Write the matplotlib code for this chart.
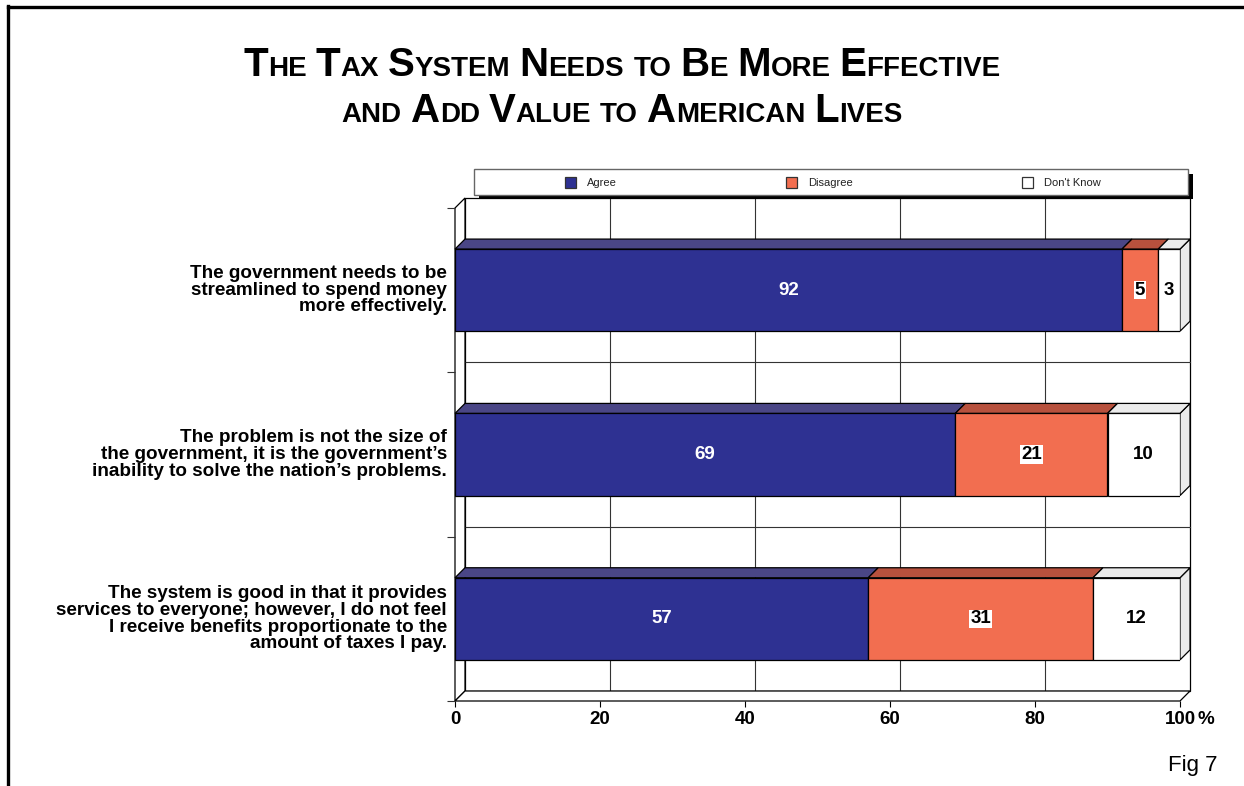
import numpy as np
import matplotlib.pyplot as plt
from matplotlib.patches import Polygon, Rectangle
from matplotlib.lines import Line2D

plt.rcParams['font.family'] = ['Liberation Sans', 'DejaVu Sans']

statements = [
    "The government needs to be\nstreamlined to spend money\nmore effectively.",
    "The problem is not the size of\nthe government, it is the government\u2019s\ninability to solve the nation\u2019s problems.",
    "The system is good in that it provides\nservices to everyone; however, I do not feel\nI receive benefits proportionate to the\namount of taxes I pay.",
]
agree = [92, 69, 57]
disagree = [5, 21, 31]
dont_know = [3, 10, 12]
series_names = ["Agree", "Disagree", "Don't Know"]
xticks = [0, 20, 40, 60, 80, 100]

front_cols = ['#2E3192', '#F26E50', '#FFFFFF']
top_cols = ['#4A4686', '#B7513D', '#EBEBEB']
side_col = '#EBEBEB'

W, H = 1244, 786
fig = plt.figure(figsize=(W / 100, H / 100), dpi=100)


def fx(px):
    return px / W


def fy(py):
    return 1 - py / H


# frame lines on the left and top
fig.add_artist(Line2D([fx(8), fx(8)], [fy(6), 0], color='black', lw=2.4))
fig.add_artist(Line2D([fx(8), 1], [fy(7), fy(7)], color='black', lw=2.4))

# front face of the plot box: 0..100 across, 3 category rows
ax = fig.add_axes([fx(455), fy(701), fx(1180) - fx(455), fy(208) - fy(701)])
ax.set_xlim(0, 100)
ax.set_ylim(0, 3)
for s in ax.spines.values():
    s.set_visible(False)
ax.patch.set_visible(False)

n = len(statements)
dx = 100 * 10 / 725.0
dy = n * 10 / 493.0
ypos = np.arange(n)[::-1] + 0.5
bh = 0.5
ec = 'black'
lw = 0.9

# back wall, side wall and floor
ax.add_patch(Rectangle((dx, dy), 100, n, facecolor='white', edgecolor=ec, lw=lw, zorder=0, clip_on=False))
ax.add_patch(Polygon([(0, 0), (dx, dy), (dx, n + dy), (0, n)], closed=True,
                     facecolor='white', edgecolor=ec, lw=lw, zorder=0.5, clip_on=False))
ax.add_patch(Polygon([(0, 0), (100, 0), (100 + dx, dy), (dx, dy)], closed=True,
                     facecolor='white', edgecolor=ec, lw=lw, zorder=0.5, clip_on=False))
for t in xticks[1:-1]:
    ax.plot([t + dx, t + dx], [dy, n + dy], color='#333333', lw=0.8, zorder=0.2, clip_on=False)
for k in range(1, n):
    ax.plot([dx, 100 + dx], [k + dy, k + dy], color='#333333', lw=0.8, zorder=0.2, clip_on=False)

# stacked bars with their top faces
series = [agree, disagree, dont_know]
lefts = np.zeros(n)
for i, vals in enumerate(series):
    vals = np.array(vals, dtype=float)
    ax.barh(ypos, vals, height=bh, left=lefts, color=front_cols[i], edgecolor=ec, lw=lw, zorder=3)
    for y, l, v in zip(ypos, lefts, vals):
        ax.add_patch(Polygon([(l, y + bh / 2), (l + v, y + bh / 2), (l + v + dx, y + bh / 2 + dy),
                              (l + dx, y + bh / 2 + dy)], closed=True, facecolor=top_cols[i],
                             edgecolor=ec, lw=lw, zorder=2.5 + i * 0.1, clip_on=False))
        cx = l + v / 2
        if i == 0:
            ax.text(cx, y, f"{int(v)}", color='white', fontsize=13.5, fontweight='bold',
                    ha='center', va='center', zorder=5)
        elif i == 1:
            ax.text(cx, y, f"{int(v)}", color='black', fontsize=13.5, fontweight='bold',
                    ha='center', va='center', zorder=5,
                    bbox=dict(facecolor='white', edgecolor='none', pad=0.6))
        else:
            ax.text(cx, y, f"{int(v)}", color='black', fontsize=13.5, fontweight='bold',
                    ha='center', va='center', zorder=5)
    lefts = lefts + vals

# right-hand end faces
for y, l in zip(ypos, lefts):
    ax.add_patch(Polygon([(l, y - bh / 2), (l + dx, y - bh / 2 + dy), (l + dx, y + bh / 2 + dy),
                          (l, y + bh / 2)], closed=True, facecolor=side_col, edgecolor=ec,
                         lw=lw, zorder=2.4, clip_on=False))

# axes ticks
ax.set_xticks(xticks)
ax.set_xticklabels([str(t) for t in xticks], fontsize=13.5, fontweight='bold')
ax.set_yticks(range(n + 1))
ax.set_yticklabels([])
ax.tick_params(axis='x', length=4, width=0.8, pad=3)
ax.tick_params(axis='y', length=5.5, width=0.8, color='#333333')
fig.text(fx(1198), fy(724), "%", fontsize=13.5, fontweight='bold', ha='left', va='baseline')

for y, s in zip(ypos, statements):
    fig.text(fx(447), ax.transData.transform((0, y))[1] / H, s, fontsize=13.6, fontweight='bold',
             ha='right', va='center', multialignment='right', linespacing=0.97)

# legend box with drop shadow
fig.add_artist(Rectangle((fx(479), fy(199)), fx(1193) - fx(479), fy(174) - fy(199),
                         transform=fig.transFigure, facecolor='black', edgecolor='none'))
fig.add_artist(Rectangle((fx(474), fy(195)), fx(1188) - fx(474), fy(169) - fy(195),
                         transform=fig.transFigure, facecolor='white', edgecolor='#666666', lw=1))
leg_x = [565, 786, 1022]
for x0, name, col in zip(leg_x, series_names, front_cols):
    fig.add_artist(Rectangle((fx(x0), fy(188)), fx(11), fx(11) * W / H,
                             transform=fig.transFigure, facecolor=col, edgecolor='#333333', lw=0.9))
    fig.text(fx(x0 + 22), fy(182.5), name, fontsize=8, color='#222222', ha='left', va='center')

# small-caps title
title_lines = [
    ("THE TAX SYSTEM NEEDS to BE MORE EFFECTIVE", 76),
    ("and ADD VALUE to AMERICAN LIVES", 122),
]
big, small = 29, 20
renderer = fig.canvas.get_renderer()
for line, base in title_lines:
    pieces = []
    for w in line.split(' '):
        if w.islower():
            pieces.append([(w.upper(), small)])
        else:
            pieces.append([(w[0], big), (w[1:], small)] if len(w) > 1 else [(w, big)])
    gap = 9
    arts = []
    x = 0
    for word in pieces:
        for txt, size in word:
            if not txt:
                continue
            t = fig.text(0, fy(base), txt, fontsize=size, fontweight='bold', ha='left', va='baseline')
            wpx = t.get_window_extent(renderer).width
            arts.append((t, x))
            x += wpx
        x += gap
    total = x - gap
    x0 = 622 - total / 2
    for t, off in arts:
        t.set_x(fx(x0 + off))

fig.text(fx(1218), fy(771), "Fig 7", fontsize=16, ha='right', va='baseline')

fig.savefig('out.png', dpi=100)
